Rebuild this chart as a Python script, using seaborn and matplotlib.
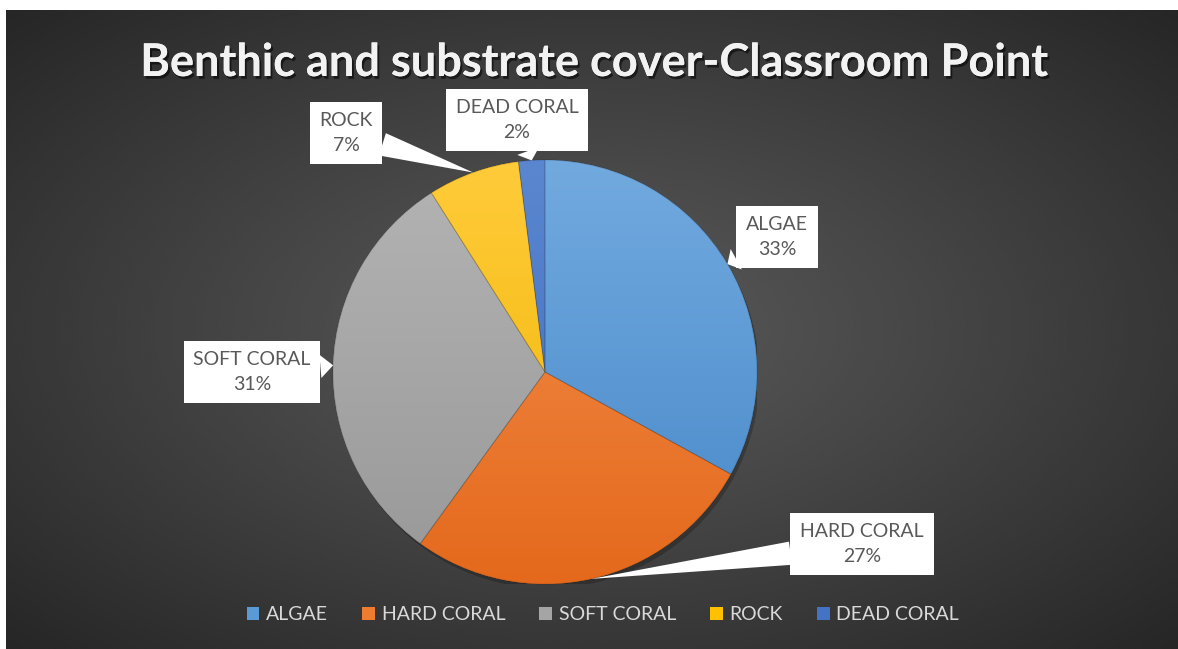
import numpy as np
import matplotlib
matplotlib.use("Agg")
import matplotlib.pyplot as plt
import seaborn as sns
from matplotlib.colors import LinearSegmentedColormap
from matplotlib.patches import Patch, Circle
import matplotlib.patheffects as pe

# ---- data -------------------------------------------------------------
categories = ["ALGAE", "HARD CORAL", "SOFT CORAL", "ROCK", "DEAD CORAL"]
cover_pct = [33, 27, 31, 7, 2]
title = "Benthic and substrate cover-Classroom Point"

# ---- styling ----------------------------------------------------------
base_colors = ["#5B9BD5", "#ED7D31", "#A5A5A5", "#FFC000", "#4472C4"]
top_colors = ["#72AADF", "#F5904F", "#B4B4B4", "#FFCB3A", "#5B87D0"]
bottom_colors = ["#4788C9", "#E4691C", "#989898", "#EFB500", "#3D6BBC"]
# label box centres (figure pixels, measured from the top-left)
label_pos = [(777, 237), (862, 544), (252, 372), (346, 133), (517, 120)]

W, H = 1178, 649
sns.set_theme(style="dark")
plt.rcParams["font.family"] = ["Lato", "DejaVu Sans"]

fig = plt.figure(figsize=(W / 100, H / 100), dpi=100, facecolor="white")

# dark radial-gradient panel
bg = fig.add_axes([6 / W, 0, (W - 6) / W, (H - 10) / H])
bg.set_axis_off()
yy, xx = np.mgrid[0:1:300j, 0:1:550j]
d = np.sqrt(((xx - 0.5) / 0.5) ** 2 + ((yy - 0.5) / 0.5) ** 2) / np.sqrt(2)
shade = 0.35 - 0.20 * d ** 1.1
bg.imshow(shade, cmap="gray", vmin=0, vmax=1, extent=[0, 1, 0, 1],
          aspect="auto", origin="upper", interpolation="bicubic")
bg.set_xlim(0, 1)
bg.set_ylim(0, 1)

# pie axes: square box in pixels
R = 212
cx, cy = 545, 372
ax = fig.add_axes([(cx - R) / W, (H - cy - R) / H, 2 * R / W, 2 * R / H])
ax.set_axis_off()

# soft drop shadow under the pie
ax.add_patch(Circle((0.012, -0.02), 1.0, facecolor="black", alpha=0.22,
                    edgecolor="none", zorder=0))

wedges, _ = ax.pie(cover_pct, colors=base_colors, startangle=90,
                   counterclock=False, radius=1.0,
                   wedgeprops=dict(linewidth=0, zorder=1))

# vertical gradient fill for each slice
grad = np.linspace(0, 1, 256).reshape(-1, 1)
for w, c_top, c_bot in zip(wedges, top_colors, bottom_colors):
    cmap = LinearSegmentedColormap.from_list("g", [c_bot, c_top])
    im = ax.imshow(grad, cmap=cmap, extent=[-1, 1, -1, 1], origin="lower",
                   aspect="auto", zorder=2)
    im.set_clip_path(w)

# thin slice borders
ax.pie(cover_pct, colors=["none"] * len(cover_pct), startangle=90,
       counterclock=False, radius=1.0,
       wedgeprops=dict(linewidth=0.7, edgecolor=(0, 0, 0, 0.15), zorder=3,
                       fill=False))
ax.set_xlim(-1, 1)
ax.set_ylim(-1, 1)
ax.set_aspect("auto")

# callout labels pointing to the middle of each slice's rim
total = float(sum(cover_pct))
cum = 0.0
for name, val, (lx, ly) in zip(categories, cover_pct, label_pos):
    mid = cum + val / 2.0
    cum += val
    theta = np.deg2rad(90 - 360 * mid / total)
    tip = (np.cos(theta), np.sin(theta))
    pct = round(100 * val / total)
    ax.annotate(f"{name}\n{pct}%", xy=tip, xycoords="data",
                xytext=(lx, H - ly), textcoords="figure pixels",
                ha="center", va="center", fontsize=14, color="#595959",
                linespacing=1.6, annotation_clip=False, zorder=10,
                bbox=dict(boxstyle="square,pad=0.5", fc="white", ec="none"),
                arrowprops=dict(arrowstyle="wedge,tail_width=1.2,shrink_factor=0.5",
                                fc="white", ec="none", shrinkA=0, shrinkB=0))

# title
fig.text((144 + 1045) / 2 / W, 1 - 63 / H, title, ha="center", va="center",
         fontsize=32.5, fontweight="bold", color="#F2F2F2",
         path_effects=[pe.withSimplePatchShadow(offset=(1.5, -2),
                                                shadow_rgbFace="black",
                                                alpha=0.55),
                       pe.Normal()])

# legend
handles = [Patch(facecolor=c, edgecolor="none") for c in base_colors]
fig.legend(handles, categories, loc="center", bbox_to_anchor=(603 / W, 34 / H),
           ncol=5, frameon=False, fontsize=14, labelcolor="#D9D9D9",
           handlelength=0.65, handleheight=0.65, handletextpad=0.35,
           columnspacing=1.75)

fig.savefig("out.png", dpi=100, facecolor=fig.get_facecolor())
